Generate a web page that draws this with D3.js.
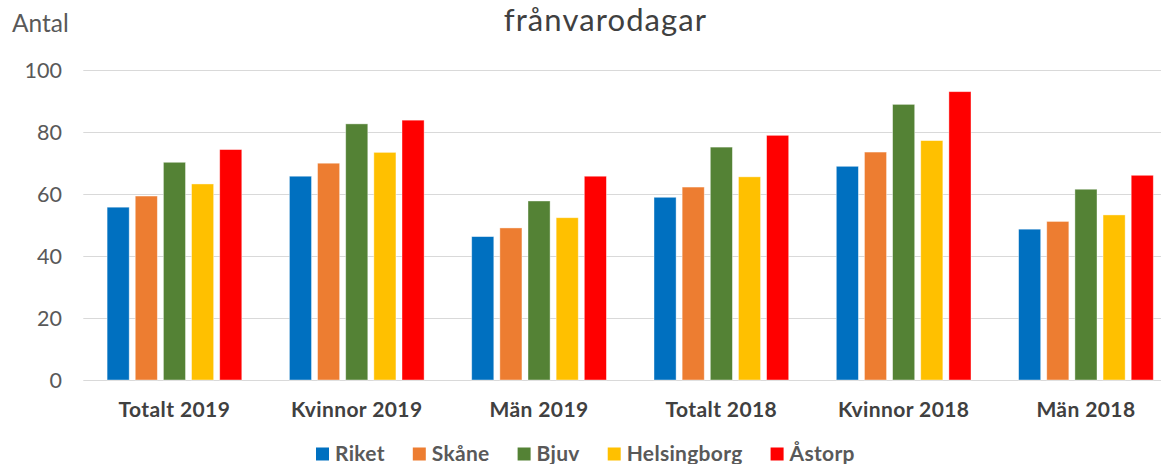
<!DOCTYPE html>
<html>
<head>
<meta charset="utf-8">
<script src="https://cdn.jsdelivr.net/npm/d3@7"></script>
<style>
  html, body { margin: 0; padding: 0; background: #fff; }
  svg { display: block; font-family: Lato, "Open Sans", sans-serif; }
</style>
</head>
<body>
<svg id="chart" width="1161" height="464"></svg>
<script>
// Absence days per group and area
const categories = ["Totalt 2019", "Kvinnor 2019", "Män 2019", "Totalt 2018", "Kvinnor 2018", "Män 2018"];
const seriesNames = ["Riket", "Skåne", "Bjuv", "Helsingborg", "Åstorp"];
const seriesColors = ["#0070C0", "#ED7D31", "#548235", "#FFC000", "#FF0000"];
const riket       = [55.8, 65.8, 46.3, 59.0, 69.0, 48.7];
const skane       = [59.4, 70.0, 49.1, 62.3, 73.6, 51.2];
const bjuv        = [70.3, 82.7, 57.8, 75.2, 89.0, 61.6];
const helsingborg = [63.3, 73.5, 52.4, 65.6, 77.3, 53.3];
const astorp      = [74.4, 83.9, 65.8, 79.0, 93.1, 66.1];
const yTicks = [0, 20, 40, 60, 80, 100];

const seriesValues = [riket, skane, bjuv, helsingborg, astorp];

const svg = d3.select("#chart");
const left = 83.3, step = 182.3;
const x0 = d3.scaleBand().domain(categories).range([left, left + step * categories.length]).padding(0);
const x1 = d3.scaleBand().domain(seriesNames).range([23.8, step - 23.8]).paddingInner(0.215).paddingOuter(0);
const y = d3.scaleLinear().domain([0, 100]).range([380, 70.3]);

// grid lines
svg.append("g")
  .selectAll("line")
  .data(yTicks)
  .join("line")
  .attr("x1", left).attr("x2", 1161)
  .attr("y1", d => Math.round(y(d)) + 0.5).attr("y2", d => Math.round(y(d)) + 0.5)
  .attr("stroke", "#d9d9d9").attr("stroke-width", 1.2);

// y tick labels
svg.append("g")
  .selectAll("text")
  .data(yTicks)
  .join("text")
  .attr("x", 62).attr("y", d => y(d))
  .attr("dy", "0.36em")
  .attr("text-anchor", "end")
  .attr("font-size", 21.5)
  .attr("fill", "#595959")
  .text(d => d);

// bars
const groups = svg.append("g")
  .selectAll("g")
  .data(categories)
  .join("g")
  .attr("transform", d => `translate(${x0(d)},0)`);

groups.selectAll("rect")
  .data((c, ci) => seriesNames.map((s, si) => ({ s, si, v: seriesValues[si][ci] })))
  .join("rect")
  .attr("x", d => x1(d.s))
  .attr("width", x1.bandwidth())
  .attr("y", d => y(d.v))
  .attr("height", d => y(0) - y(d.v))
  .attr("fill", d => seriesColors[d.si])
  .attr("stroke", "#ffffff")
  .attr("stroke-opacity", 0.5)
  .attr("stroke-width", 0.8);

// category labels
svg.append("g")
  .selectAll("text")
  .data(categories)
  .join("text")
  .attr("x", d => x0(d) + step / 2)
  .attr("y", 417)
  .attr("text-anchor", "middle")
  .attr("font-size", 21)
  .attr("letter-spacing", 0.4)
  .attr("font-weight", "bold")
  .attr("fill", "#404040")
  .text(d => d);

// title and axis caption
svg.append("text")
  .attr("x", 605.5).attr("y", 31)
  .attr("text-anchor", "middle")
  .attr("font-size", 31)
  .attr("letter-spacing", 1.1)
  .attr("fill", "#404040")
  .text("frånvarodagar");

svg.append("text")
  .attr("x", 12).attr("y", 32)
  .attr("font-size", 24.5)
  .attr("fill", "#595959")
  .text("Antal");

// legend
const legend = svg.append("g");
let lx = 316;
seriesNames.forEach((name, i) => {
  const item = legend.append("g").attr("transform", `translate(${lx},0)`);
  item.append("rect")
    .attr("x", 0).attr("y", 447.5).attr("width", 13).attr("height", 13)
    .attr("fill", seriesColors[i]);
  const t = item.append("text")
    .attr("x", 19).attr("y", 461)
    .attr("font-size", 21)
    .attr("letter-spacing", 0.3)
    .attr("font-weight", "bold")
    .attr("fill", "#595959")
    .text(name);
  lx += 19 + t.node().getComputedTextLength() + 28;
});
</script>
</body>
</html>
